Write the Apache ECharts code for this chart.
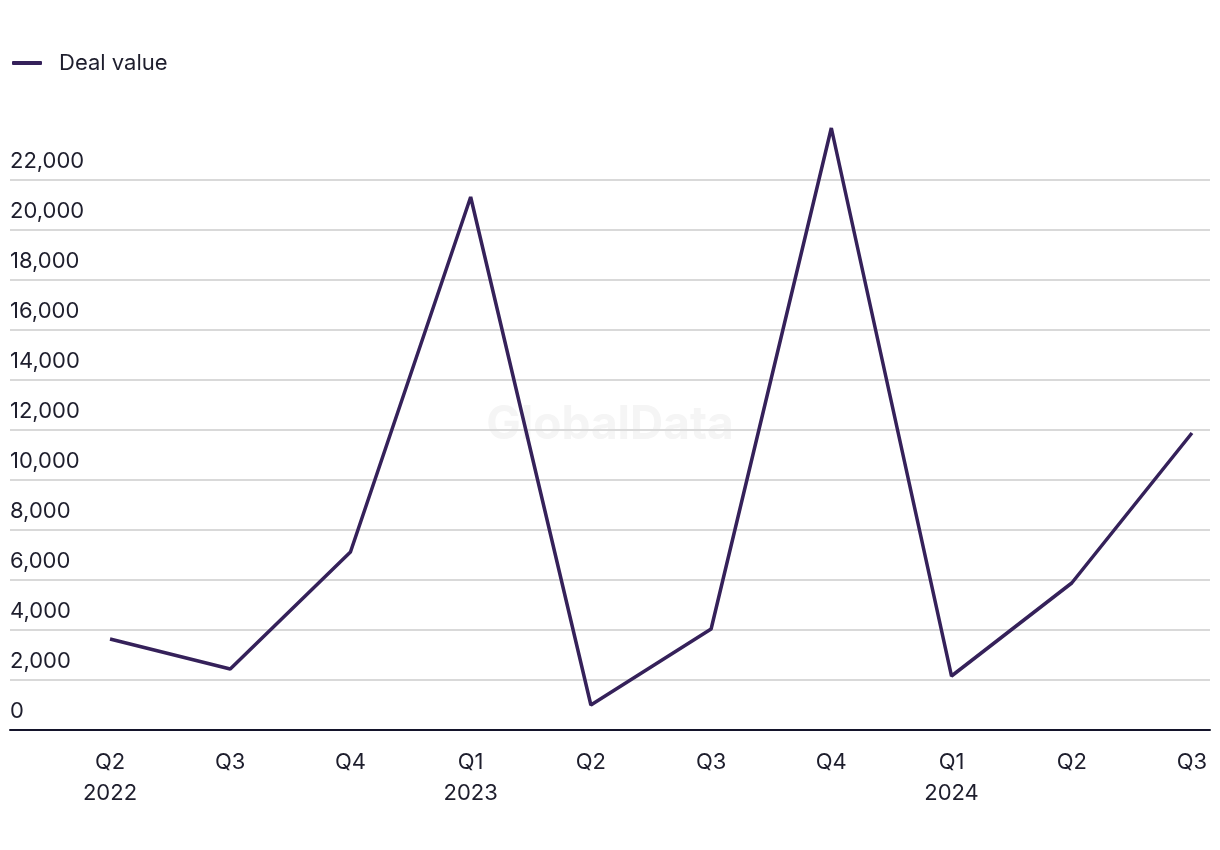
<!DOCTYPE html>
<html>
<head>
<meta charset="utf-8">
<script src="https://cdn.jsdelivr.net/npm/echarts@6/dist/echarts.min.js"></script>
<style>html,body{margin:0;padding:0;background:#fff}#c{width:1220px;height:850px}</style>
</head>
<body>
<div id="c"></div>
<script>
const categories = ['Q2\n2022','Q3','Q4','Q1\n2023','Q2','Q3','Q4','Q1\n2024','Q2','Q3'];
const dealValue = [3640, 2440, 7120, 21320, 1000, 4040, 24080, 2160, 5880, 11880];
const yTicks = [0,2000,4000,6000,8000,10000,12000,14000,16000,18000,20000,22000];

const chart = echarts.init(document.getElementById('c'), null, {renderer:'canvas'});
const font = 'Inter, "Noto Sans", sans-serif';
chart.setOption({
  animation:false,
  backgroundColor:'#fff',
  textStyle:{fontFamily:font},
  graphic:[{type:'text',left:'center',top:402,z:0,style:{text:'GlobalData',fontSize:46,fontWeight:'bold',fill:'#f5f5f5',fontFamily:font}}],
  legend:{left:7,top:47,icon:'roundRect',itemWidth:30,itemHeight:4,
    textStyle:{fontSize:22,color:'#1e1e2d',padding:[0,0,0,12],fontFamily:font},
    data:[{name:'Deal value',itemStyle:{color:'#35215a'}}]},
  grid:{left:10,right:10,top:180,bottom:120,containLabel:false},
  xAxis:{type:'value',min:-0.832,max:9.15,
    axisLine:{show:true,lineStyle:{color:'#14142b',width:2}},
    axisTick:{show:false},splitLine:{show:false},
    axisLabel:{customValues:categories.map((c,i)=>i),formatter:v=>categories[Math.round(v)],
      fontSize:22,lineHeight:31,color:'#1e1e2d',margin:17,align:'center'}},
  yAxis:{type:'value',min:0,max:22000,interval:2000,
    axisLine:{show:false},axisTick:{show:false},
    splitLine:{lineStyle:{color:'#d9d9d9',width:2}},
    axisLabel:{inside:true,margin:0,verticalAlign:'bottom',padding:[0,0,8,0],fontSize:22,color:'#1e1e2d',
      formatter:v=>v.toLocaleString('en-US')}},
  series:[{name:'Deal value',type:'line',symbol:'none',clip:false,
    data:dealValue.map((v,i)=>[i,v]),
    lineStyle:{color:'#35215a',width:3.5},itemStyle:{color:'#35215a'},z:5}]
});
</script>
</body>
</html>
